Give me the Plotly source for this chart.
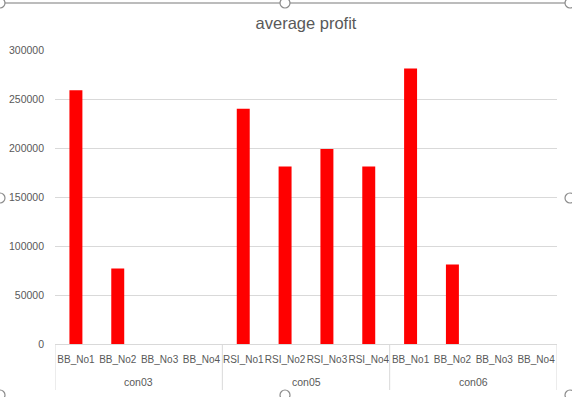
import plotly.graph_objects as go

groups = ["con03", "con05", "con06"]
subs = ["BB_No1", "BB_No2", "BB_No3", "BB_No4",
        "RSI_No1", "RSI_No2", "RSI_No3", "RSI_No4",
        "BB_No1", "BB_No2", "BB_No3", "BB_No4"]
group_of = ["con03"] * 4 + ["con05"] * 4 + ["con06"] * 4
profit = [259000, 77000, 0, 0,
          240000, 181000, 199000, 181000,
          281000, 81000, 0, 0]
y_ticks = [0, 50000, 100000, 150000, 200000, 250000, 300000]

W, H = 572, 397
L, R, T, B = 55, 15, 50, 53
pw, ph = W - L - R, H - T - B

xpos = list(range(len(subs)))

fig = go.Figure(go.Bar(x=xpos, y=profit, marker_color="#ff0000",
                       marker_line_width=0, hoverinfo="skip"))

font = "Liberation Sans"
grey = "#595959"
fig.update_layout(
    width=W, height=H,
    margin=dict(l=L, r=R, t=T, b=B),
    paper_bgcolor="white", plot_bgcolor="white",
    bargap=0.69,
    showlegend=False,
    title=dict(text="average profit", x=0.5, xref="paper", xanchor="center",
               y=1 - 23 / H, yanchor="middle",
               font=dict(family=font, size=16.5, color=grey)),
    font=dict(family=font, size=10, color=grey),
)
fig.update_xaxes(range=[-0.5, len(subs) - 0.5], tickvals=xpos, ticktext=subs, tickangle=0,
                 showline=True, linecolor="#d9d9d9", linewidth=1, showgrid=False,
                 zeroline=False, ticks="", ticklabelstandoff=6,
                 tickfont=dict(family=font, size=10, color=grey), automargin=False)
fig.update_yaxes(range=[0, 300000], tickvals=y_ticks, ticktext=[str(v) for v in y_ticks],
                 showgrid=True, gridcolor="#d9d9d9", gridwidth=1, zeroline=False,
                 showline=False, ticks="", ticklabelstandoff=10,
                 tickfont=dict(family=font, size=10.5, color=grey), automargin=False)

def px(x):
    return (x - L) / pw

def py(y):
    return (H - B - y) / ph

# group dividers and group labels (second category level)
bounds = [-0.5]
for i in range(1, len(group_of)):
    if group_of[i] != group_of[i - 1]:
        bounds.append(i - 0.5)
bounds.append(len(group_of) - 0.5)
for b in bounds:
    fig.add_shape(type="line", xref="x", yref="paper", x0=b, x1=b, y0=0, y1=py(390),
                  line=dict(color="#d9d9d9", width=1))
for g in groups:
    idx = [i for i, v in enumerate(group_of) if v == g]
    fig.add_annotation(x=(idx[0] + idx[-1]) / 2, xref="x", y=py(382), yref="paper",
                       text=g, showarrow=False, yanchor="middle",
                       font=dict(family=font, size=10.5, color=grey))

# Excel selection frame decoration
fig.add_shape(type="line", xref="paper", yref="paper", x0=px(0), x1=px(W), y0=py(3), y1=py(3),
              line=dict(color="#a6a6a6", width=1.5))
for cx, cy in [(0, 3), (285, 3), (570, 3), (0, 198), (570, 198), (0, 395), (285, 395), (570, 395)]:
    r = 5
    fig.add_shape(type="circle", xref="paper", yref="paper",
                  x0=px(cx - r), x1=px(cx + r), y0=py(cy + r), y1=py(cy - r),
                  fillcolor="white", line=dict(color="#8c8c8c", width=1.2))

fig.write_html("out.html", config={"displayModeBar": False},
               post_script="document.body.style.margin='0';document.body.style.overflow='hidden';")
